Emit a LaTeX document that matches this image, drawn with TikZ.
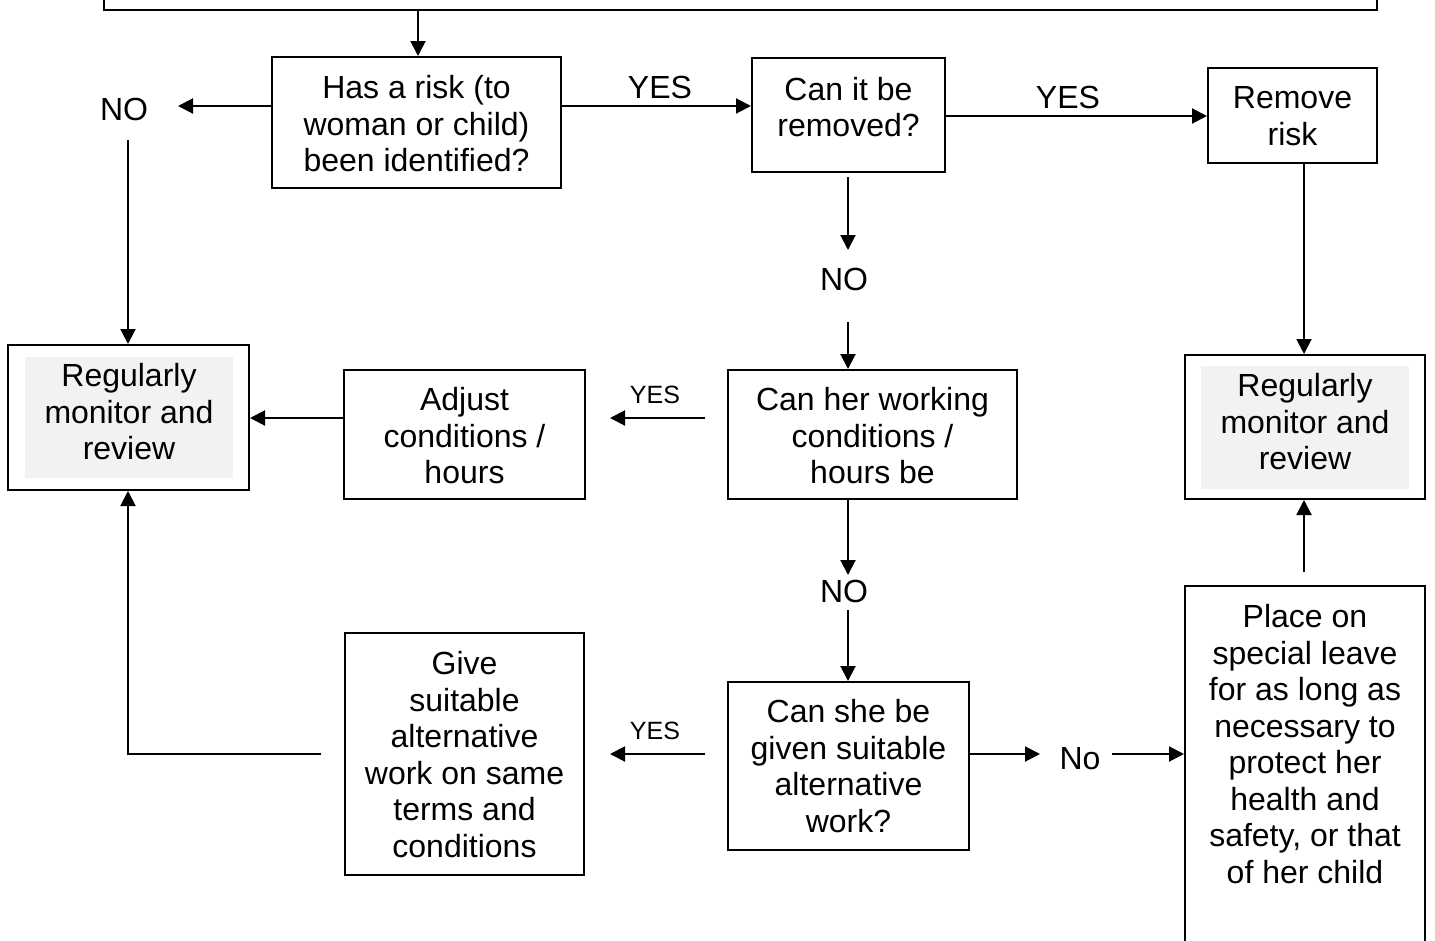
\documentclass[tikz,border=0pt]{standalone}
\usepackage{fontspec}
\setmainfont{Liberation Sans}
\usetikzlibrary{arrows.meta}
\definecolor{panelgray}{HTML}{F2F2F2}
\tikzset{
  every picture/.style={x=1pt,y=-1pt},
  arr/.style={line width=2pt,-{Triangle[length=15pt,width=15pt]}},
  boxnode/.style={draw,line width=2pt,inner sep=0pt},
  txt/.style={inner sep=0pt,align=center,font=\fontsize{32}{36.5}\selectfont},
  lbl/.style={inner sep=0pt,font=\fontsize{32}{36.5}\selectfont},
  slbl/.style={inner sep=0pt,font=\fontsize{25}{28}\selectfont},
  panel/.style={fill=panelgray,inner sep=0pt}
}
\begin{document}
\begin{tikzpicture}
\useasboundingbox (0,0) rectangle (1435,940);
\clip (0,0) rectangle (1435,940);
% boxes
\node[boxnode,minimum width=1273pt,minimum height=60pt] (top) at (740.5,-20) {};
\node[boxnode,minimum width=289pt,minimum height=131pt] (b1) at (416.5,122.5) {};
\node[txt] at (416.5,124) {Has a risk (to\\woman or child)\\been identified?};
\node[boxnode,minimum width=193pt,minimum height=114pt] (b2) at (848.5,115) {};
\node[txt] at (848.5,107) {Can it be\\removed?};
\node[boxnode,minimum width=169pt,minimum height=95pt] (b3) at (1292.5,115.5) {};
\node[txt] at (1292.5,116) {Remove\\risk};
\node[boxnode,minimum width=241pt,minimum height=145pt] (reg1) at (128.5,417.5) {};
\node[panel,minimum width=208pt,minimum height=121pt] at (129,417.5) {};
\node[txt] at (129,412) {Regularly\\monitor and\\review};
\node[boxnode,minimum width=240pt,minimum height=144pt] (reg2) at (1305,427) {};
\node[panel,minimum width=208pt,minimum height=123pt] at (1305,427.5) {};
\node[txt] at (1305,422) {Regularly\\monitor and\\review};
\node[boxnode,minimum width=289pt,minimum height=129pt] (b4) at (872.5,434.5) {};
\node[txt] at (872.5,436) {Can her working\\conditions /\\hours be};
\node[boxnode,minimum width=241pt,minimum height=129pt] (b5) at (464.5,434.5) {};
\node[txt] at (464.5,436) {Adjust\\conditions /\\hours};
\node[boxnode,minimum width=241pt,minimum height=168pt] (b6) at (848.5,766) {};
\node[txt] at (848.5,766) {Can she be\\given suitable\\alternative\\work?};
\node[boxnode,minimum width=239pt,minimum height=242pt] (b7) at (464.5,754) {};
\node[txt] at (464.5,754.5) {Give\\suitable\\alternative\\work on same\\terms and\\conditions};
\node[boxnode,minimum width=240pt,minimum height=374pt] (b8) at (1305,773) {};
\node[txt] at (1305,744) {Place on\\special leave\\for as long as\\necessary to\\protect her\\health and\\safety, or that\\of her child};
% labels
\node[lbl] (no1) at (124,109) {NO};
\node[lbl] (yes1) at (660,87) {YES};
\node[lbl] (yes2) at (1068,97) {YES};
\node[lbl] (no2) at (844,279) {NO};
\node[slbl] (yes3) at (655,395) {YES};
\node[lbl] (no3) at (844,591) {NO};
\node[slbl] (yes4) at (655,731) {YES};
\node[lbl] (no4) at (1080,759) {No};
% coordinates
\coordinate (tx) at (418,0);
\coordinate (n1a) at (178,106);
\coordinate (n1b) at (128,140);
\coordinate (y2) at (0,116);
\coordinate (n2s) at (848,177);
\coordinate (n2a) at (848,250);
\coordinate (n2b) at (848,322);
\coordinate (y3a) at (705,418);
\coordinate (y3b) at (610,418);
\coordinate (n3a) at (848,575);
\coordinate (n3b) at (848,610);
\coordinate (y4a) at (705,754);
\coordinate (y4b) at (610,754);
\coordinate (g1) at (321,754);
\coordinate (no4a) at (1040,754);
\coordinate (no4b) at (1112,754);
\coordinate (p1) at (1304,572);
% connectors
\draw[arr] (top.south -| tx) -- (b1.north -| tx);
\draw[arr] (b1.west |- n1a) -- (n1a);
\draw[arr] (n1b) -- (n1b |- reg1.north);
\draw[arr] (b1.east |- n1a) -- (b2.west |- n1a);
\draw[arr] (b2.east |- y2) -- (b3.west |- y2);
\draw[arr] (b3.south -| p1) -- (reg2.north -| p1);
\draw[arr] (n2s) -- (n2a);
\draw[arr] (n2b) -- (n2b |- b4.north);
\draw[arr] (y3a) -- (y3b);
\draw[arr] (b5.west |- y3a) -- (reg1.east |- y3a);
\draw[arr] (b4.south -| n3a) -- (n3a);
\draw[arr] (n3b) -- (n3b |- b6.north);
\draw[arr] (y4a) -- (y4b);
\draw[arr] (g1) -| (reg1.south -| n1b);
\draw[arr] (b6.east |- y4a) -- (no4a);
\draw[arr] (no4b) -- (b8.west |- no4b);
\draw[arr] (p1) -- (reg2.south -| p1);
\end{tikzpicture}
\end{document}
